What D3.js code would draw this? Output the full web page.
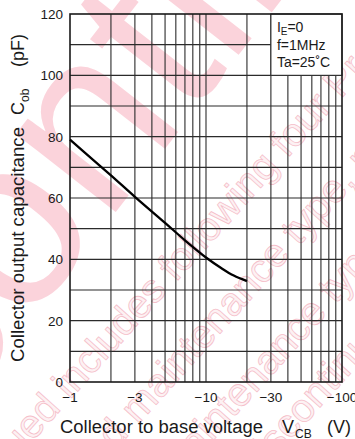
<!DOCTYPE html>
<html>
<head>
<meta charset="utf-8">
<script src="https://cdn.jsdelivr.net/npm/d3@7"></script>
<style>
  body { margin: 0; background: #fff; }
  svg { display: block; font-family: "Liberation Sans", Arial, sans-serif; }
</style>
</head>
<body>
<svg id="chart" width="355" height="439"></svg>
<script>
// Cob vs VCB (VCB negative, plotted on |V| log scale)
var vcb = [1, 1.5, 2, 3, 5, 7, 10, 13, 16, 20];
var cob = [79, 72.2, 67.4, 60.4, 51.9, 46.2, 40.6, 37.1, 34.7, 32.9];

var xTicks = [1, 3, 10, 30, 100];
var yTicks = [0, 20, 40, 60, 80, 100, 120];
var legendLines = ["=0", "f=1MHz", "Ta=25˚C"];

var svg = d3.select("#chart");

var x = d3.scaleLog().domain([1, 100]).range([70, 342]);
var y = d3.scaleLinear().domain([0, 120]).range([382, 14]);

/* watermark */
var wm = svg.append("g").attr("pointer-events", "none");
wm.append("text")
    .attr("transform", "translate(-264,698) rotate(-52)")
    .attr("font-size", 240)
    .attr("fill", "#fbd3db")
    .text("Discontinued");

var wmLines = [
    ["Maintenance/Discontinued", "includes following four Product lifecycle stage."],
    ["planed", "maintenance type, maintenance type,"],
    ["ma", "intenance type, planed discontinued"],
    ["dis", "continued type"]
];
var wmAnchors = [[70, 400], [138, 425], [212, 442], [290, 441]];
var wmGap = [12, 12, 0, 0];
wmLines.forEach(function (t, i) {
    var g = wm.append("g")
        .attr("transform", "translate(" + wmAnchors[i][0] + "," + wmAnchors[i][1] + ") rotate(-48)")
        .attr("font-size", 40)
        .attr("fill", "#fdf1f3")
        .attr("stroke", "#f5bfca")
        .attr("stroke-width", 0.8);
    g.append("text").attr("text-anchor", "end").attr("x", -wmGap[i]).text(t[0]);
    g.append("text").attr("text-anchor", "start").text(t[1]);
});

/* grid */
var xGrid = d3.range(2, 10).concat(d3.range(10, 100, 10));
var yGrid = d3.range(10, 120, 10);

svg.append("g").selectAll("line")
    .data(xGrid).enter().append("line")
    .attr("x1", function (d) { return x(d); })
    .attr("x2", function (d) { return x(d); })
    .attr("y1", y(0)).attr("y2", y(120))
    .attr("stroke", "#2b2b2b").attr("stroke-width", 1.1);

svg.append("g").selectAll("line")
    .data(yGrid).enter().append("line")
    .attr("x1", x(1)).attr("x2", x(100))
    .attr("y1", function (d) { return y(d); })
    .attr("y2", function (d) { return y(d); })
    .attr("stroke", "#2b2b2b").attr("stroke-width", 1.1);

/* legend box */
svg.append("rect")
    .attr("x", x(30)).attr("y", y(120))
    .attr("width", x(100) - x(30)).attr("height", y(100) - y(120))
    .attr("fill", "#fff").attr("stroke", "#2b2b2b").attr("stroke-width", 1.1);

var lg = svg.append("g").attr("font-size", 14).attr("fill", "#1a1a1a");
var l0 = lg.append("text").attr("x", x(30) + 6).attr("y", y(120) + 18);
l0.append("tspan").text("I");
l0.append("tspan").attr("font-size", 10).attr("dy", 3).text("E");
l0.append("tspan").attr("dy", -3).text(legendLines[0]);
lg.append("text").attr("x", x(30) + 6).attr("y", y(120) + 36).text(legendLines[1]);
lg.append("text").attr("x", x(30) + 6).attr("y", y(120) + 53).text(legendLines[2]);

/* frame */
svg.append("rect")
    .attr("x", x(1)).attr("y", y(120))
    .attr("width", x(100) - x(1)).attr("height", y(0) - y(120))
    .attr("fill", "none").attr("stroke", "#1a1a1a").attr("stroke-width", 1.6);

/* curve */
var pts = vcb.map(function (v, i) { return [v, cob[i]]; });
var line = d3.line()
    .x(function (d) { return x(d[0]); })
    .y(function (d) { return y(d[1]); })
    .curve(d3.curveCatmullRom);
svg.append("path")
    .datum(pts)
    .attr("d", line)
    .attr("fill", "none")
    .attr("stroke", "#000")
    .attr("stroke-width", 2.3);

/* axes labels */
svg.append("g").attr("font-size", 13.5).attr("fill", "#1a1a1a")
    .selectAll("text").data(xTicks).enter().append("text")
    .attr("x", function (d) { return x(d); })
    .attr("y", 402)
    .attr("text-anchor", "middle")
    .text(function (d) { return "\u2212" + d; });

svg.append("g").attr("font-size", 13.5).attr("fill", "#1a1a1a")
    .selectAll("text").data(yTicks).enter().append("text")
    .attr("x", 63)
    .attr("y", function (d) { return y(d) + 5; })
    .attr("text-anchor", "end")
    .text(function (d) { return d; });

/* x title */
var xt = svg.append("g").attr("font-size", 18).attr("fill", "#1a1a1a");
xt.append("text").attr("x", 60).attr("y", 433)
    .attr("textLength", 203).attr("lengthAdjust", "spacingAndGlyphs")
    .text("Collector to base voltage");
xt.append("text").attr("x", 282).attr("y", 433).text("V");
xt.append("text").attr("x", 295).attr("y", 438).attr("font-size", 12).text("CB");
xt.append("text").attr("x", 327).attr("y", 433).text("(V)");

/* y title */
var yt = svg.append("g").attr("font-size", 18).attr("fill", "#1a1a1a")
    .attr("transform", "rotate(-90)");
yt.append("text").attr("x", -362).attr("y", 24)
    .attr("textLength", 235).attr("lengthAdjust", "spacingAndGlyphs")
    .text("Collector output capacitance");
yt.append("text").attr("x", -115).attr("y", 24).text("C");
yt.append("text").attr("x", -102).attr("y", 29).attr("font-size", 12).text("ob");
yt.append("text").attr("x", -67).attr("y", 24).text("(pF)");
</script>
</body>
</html>
